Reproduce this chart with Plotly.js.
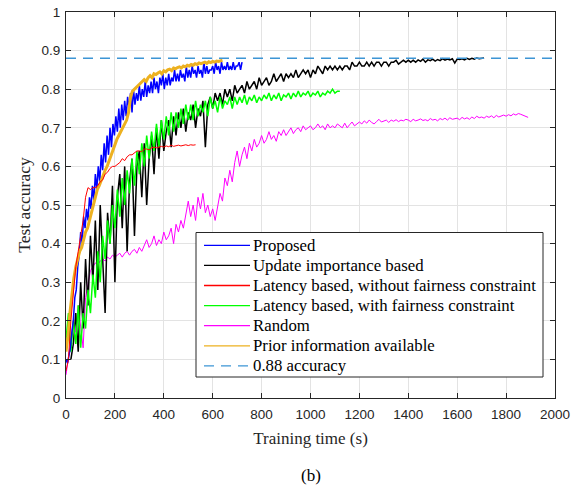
<!DOCTYPE html>
<html>
<head>
<meta charset="utf-8">
<script src="https://cdn.plot.ly/plotly-3.0.1.min.js"></script>
<style>
html,body{margin:0;padding:0;background:#fff;}
#chart{width:584px;height:487px;}
</style>
</head>
<body>
<div id="chart"></div>
<script>
// Series names (legend labels)
const seriesNames = [
  "Proposed",
  "Update importance based",
  "Latency based, without fairness constraint",
  "Latency based, with fairness constraint",
  "Random",
  "Prior information available",
  "0.88 accuracy"
];
const seriesColors = ['#0000ff','#000000','#ff0000','#00ff00','#ff00ff','#edb120','#3d95d5'];

// Proposed: start 0 s, every 6 s
const proposedStart = 0, proposedStep = 6;
const proposedAcc = [
  0.10,0.09,0.11,0.13,0.17,0.20,0.26,0.28,0.34,0.37,
  0.43,0.40,0.47,0.44,0.49,0.46,0.52,0.49,0.55,0.51,
  0.58,0.54,0.60,0.56,0.63,0.59,0.66,0.61,0.68,0.63,
  0.70,0.65,0.71,0.68,0.73,0.69,0.75,0.70,0.76,0.72,
  0.77,0.73,0.78,0.75,0.79,0.74,0.80,0.76,0.79,0.77,
  0.81,0.77,0.80,0.78,0.82,0.78,0.81,0.79,0.82,0.79,
  0.83,0.80,0.82,0.79,0.83,0.81,0.84,0.80,0.83,0.81,
  0.84,0.81,0.83,0.82,0.85,0.82,0.84,0.82,0.85,0.83,
  0.84,0.82,0.86,0.83,0.85,0.83,0.86,0.84,0.85,0.83,
  0.86,0.84,0.85,0.83,0.87,0.84,0.86,0.84,0.85,0.85,
  0.86,0.84,0.87,0.85,0.86,0.84,0.87,0.85,0.86,0.85,
  0.87,0.85,0.86,0.85,0.87,0.85,0.86,0.86,0.87,0.85,0.87
];

// Update importance based: start 20 s, every 10 s
const importanceStart = 20, importanceStep = 10;
const importanceAcc = [
  0.10,0.14,0.22,0.12,0.30,0.18,0.36,0.24,0.42,0.30,
  0.46,0.28,0.50,0.36,0.22,0.48,0.40,0.55,0.30,0.52,
  0.58,0.44,0.60,0.38,0.56,0.62,0.42,0.60,0.64,0.52,
  0.66,0.50,0.62,0.68,0.58,0.70,0.62,0.72,0.64,0.69,
  0.72,0.65,0.73,0.68,0.74,0.70,0.75,0.69,0.74,0.72,
  0.76,0.70,0.75,0.73,0.77,0.65,0.76,0.78,0.75,0.79,
  0.77,0.79,0.76,0.80,0.78,0.80,0.77,0.81,0.79,0.80,
  0.81,0.79,0.82,0.80,0.81,0.82,0.80,0.83,0.81,0.82,
  0.83,0.81,0.82,0.84,0.82,0.83,0.84,0.82,0.84,0.83,
  0.84,0.83,0.85,0.83,0.84,0.85,0.84,0.85,0.83,0.85,
  0.84,0.86,0.85,0.84,0.86,0.85,0.86,0.85,0.86,0.85,
  0.86,0.85,0.86,0.86,0.85,0.87,0.86,0.86,0.87,0.86,
  0.86,0.87,0.86,0.87,0.86,0.87,0.87,0.86,0.87,0.87,
  0.86,0.87,0.87,0.875,0.865,0.87,0.875,0.87,0.875,0.87,
  0.875,0.87,0.876,0.872,0.878,0.87,0.876,0.874,0.878,0.873,
  0.877,0.874,0.879,0.875,0.878,0.876,0.879,0.868,0.878,0.877,
  0.879,0.876,0.88,0.877,0.88,0.878,0.881,0.879,0.88,0.881
];

// Latency based, without fairness: start 0 s, every 10 s
const latNoFairStart = 0, latNoFairStep = 10;
const latNoFairAcc = [
  0.07,0.10,0.20,0.28,0.34,0.38,0.42,0.46,0.52,0.545,
  0.54,0.545,0.545,0.55,0.56,0.565,0.58,0.585,0.595,0.60,
  0.60,0.605,0.61,0.62,0.615,0.625,0.63,0.63,0.635,0.64,
  0.64,0.638,0.645,0.645,0.643,0.648,0.65,0.648,0.65,0.652,
  0.65,0.653,0.651,0.655,0.652,0.654,0.655,0.653,0.655,0.656,
  0.654,0.656,0.655,0.656
];

// Latency based, with fairness: start 0 s, every 10 s
const latFairStart = 0, latFairStep = 10;
const latFairAcc = [
  0.15,0.22,0.12,0.20,0.14,0.24,0.13,0.22,0.18,0.28,
  0.22,0.32,0.26,0.38,0.30,0.42,0.36,0.46,0.40,0.50,
  0.44,0.54,0.47,0.57,0.50,0.59,0.53,0.62,0.55,0.64,
  0.58,0.66,0.60,0.68,0.62,0.69,0.64,0.71,0.65,0.72,
  0.67,0.73,0.68,0.74,0.69,0.74,0.70,0.75,0.71,0.76,
  0.72,0.76,0.72,0.77,0.73,0.76,0.74,0.77,0.73,0.78,
  0.75,0.77,0.74,0.78,0.75,0.77,0.76,0.78,0.75,0.78,
  0.76,0.78,0.765,0.785,0.76,0.78,0.77,0.785,0.765,0.78,
  0.77,0.785,0.775,0.79,0.77,0.785,0.775,0.79,0.77,0.785,
  0.78,0.79,0.775,0.79,0.78,0.795,0.78,0.79,0.785,0.795,
  0.78,0.79,0.785,0.795,0.78,0.79,0.785,0.795,0.79,0.80,
  0.79,0.795,0.795
];

// Random: start 0 s, every 10 s
const randomStart = 0, randomStep = 10;
const randomAcc = [
  0.06,0.10,0.15,0.20,0.17,0.24,0.19,0.13,0.26,0.30,
  0.33,0.34,0.35,0.345,0.355,0.36,0.355,0.365,0.36,0.37,
  0.365,0.37,0.375,0.365,0.375,0.38,0.37,0.38,0.385,0.375,
  0.39,0.38,0.395,0.41,0.39,0.40,0.42,0.395,0.41,0.40,
  0.43,0.41,0.42,0.44,0.40,0.45,0.43,0.46,0.44,0.48,
  0.51,0.47,0.50,0.46,0.52,0.49,0.53,0.48,0.50,0.47,
  0.49,0.46,0.50,0.53,0.51,0.57,0.55,0.59,0.56,0.61,
  0.64,0.60,0.63,0.65,0.62,0.66,0.64,0.67,0.65,0.66,
  0.68,0.66,0.67,0.69,0.67,0.68,0.665,0.69,0.68,0.695,
  0.68,0.69,0.70,0.685,0.695,0.70,0.69,0.705,0.695,0.70,
  0.705,0.695,0.70,0.71,0.70,0.705,0.695,0.71,0.70,0.705,
  0.70,0.71,0.705,0.70,0.712,0.70,0.708,0.715,0.705,0.71,
  0.715,0.71,0.718,0.712,0.72,0.714,0.71,0.716,0.722,0.715,
  0.718,0.72,0.714,0.72,0.717,0.721,0.716,0.72,0.718,0.722,
  0.72,0.716,0.722,0.718,0.72,0.723,0.719,0.721,0.718,0.724,
  0.72,0.722,0.718,0.724,0.721,0.725,0.72,0.726,0.722,0.724,
  0.725,0.721,0.727,0.723,0.726,0.722,0.728,0.724,0.73,0.726,
  0.728,0.725,0.73,0.727,0.731,0.726,0.732,0.728,0.73,0.733,
  0.73,0.734,0.731,0.736,0.733,0.737,0.735,0.733,0.729,0.727
];

// Prior information available: start 0 s, every 8 s
const priorStart = 0, priorStep = 8;
const priorAcc = [
  0.12,0.16,0.22,0.27,0.31,0.34,0.36,0.38,0.39,0.41,
  0.43,0.44,0.46,0.48,0.50,0.52,0.54,0.55,0.565,0.575,
  0.59,0.60,0.615,0.63,0.645,0.66,0.67,0.68,0.69,0.70,
  0.71,0.72,0.74,0.78,0.795,0.80,0.805,0.81,0.815,0.82,
  0.825,0.82,0.83,0.835,0.83,0.84,0.838,0.842,0.845,0.84,
  0.848,0.845,0.85,0.852,0.848,0.855,0.853,0.856,0.858,0.855,
  0.86,0.858,0.862,0.86,0.864,0.862,0.866,0.864,0.868,0.866,
  0.868,0.87,0.867,0.871,0.869,0.872,0.87,0.873,0.872,0.874,
  0.875
];

// Reference accuracy line
const refTime = [0, 2000];
const refAcc = [0.88, 0.88];

// Axis ticks
const xTicks = [0,200,400,600,800,1000,1200,1400,1600,1800,2000];
const yTicks = [0,0.1,0.2,0.3,0.4,0.5,0.6,0.7,0.8,0.9,1];

const serif = "Liberation Serif, Times New Roman, serif";
const sans = "Liberation Sans, Arial, sans-serif";

// Plot-area geometry in pixels (used to place the hand-built legend box)
const PL = 66, PR = 555, PT = 12, PB = 398;
const px = v => (v - PL) / (PR - PL);
const py = v => (PB - v) / (PB - PT);

function series(idx, x0, dx, y, width, dash) {
  const t = {type:'scatter', mode:'lines', name:seriesNames[idx], y:y,
          line:{color:seriesColors[idx], width:width}, showlegend:false};
  if (x0 !== null) { t.x0 = x0; t.dx = dx; }
  if (dash) t.line.dash = dash;
  return t;
}

const refTrace = series(6, null, null, refAcc, 1.5, '10px,7px');
refTrace.x = refTime;

const traces = [
  series(4, randomStart, randomStep, randomAcc, 1),
  series(1, importanceStart, importanceStep, importanceAcc, 1.5),
  series(3, latFairStart, latFairStep, latFairAcc, 1.5),
  series(0, proposedStart, proposedStep, proposedAcc, 1.5),
  series(5, priorStart, priorStep, priorAcc, 3),
  series(2, latNoFairStart, latNoFairStep, latNoFairAcc, 1),
  refTrace
];

// Legend (box, sample lines, labels)
const legBox = {l:196, r:543, t:232.5, b:377};
const rowTop = 245.3, rowGap = 20.1, sampleL = 204, sampleR = 250, textL = 252;
const shapes = [{type:'rect', xref:'paper', yref:'paper', layer:'above',
  x0:px(legBox.l), x1:px(legBox.r), y0:py(legBox.b), y1:py(legBox.t),
  line:{color:'#262626', width:1}, fillcolor:'#ffffff'}];
const annotations = [];
seriesNames.forEach((name, i) => {
  const yy = py(rowTop + i * rowGap);
  shapes.push({type:'line', xref:'paper', yref:'paper', layer:'above',
    x0:px(sampleL), x1:px(sampleR), y0:yy, y1:yy,
    line:{color:seriesColors[i], width:1.3, dash: i === 6 ? '10px,7px' : 'solid'}});
  annotations.push({text:name, xref:'paper', yref:'paper', x:px(textL), y:yy,
    xanchor:'left', yanchor:'middle', showarrow:false, borderpad:0,
    font:{family:serif, size:16.8, color:'#000000'}});
});
annotations.push({text:'(b)', xref:'paper', yref:'paper', x:0.5, y:-0.202,
  yanchor:'middle', showarrow:false, font:{family:serif, size:17, color:'#000000'}});

const axisCommon = {
  showline:true, linecolor:'#262626', linewidth:1, mirror:'ticks',
  ticks:'inside', ticklen:5, tickcolor:'#262626', tickwidth:1,
  showgrid:true, gridcolor:'#e3e3e3', gridwidth:1, zeroline:false,
  tickfont:{family:sans, size:13.5, color:'#262626'}
};

const layout = {
  width:584, height:487,
  margin:{l:66, r:29, t:12, b:89},
  paper_bgcolor:'#ffffff', plot_bgcolor:'#ffffff',
  showlegend:false,
  xaxis:Object.assign({}, axisCommon, {
    range:[0,2000], tickvals:xTicks, ticktext:xTicks.map(String),
    ticklabelstandoff:4,
    title:{text:'Training time (s)', font:{family:serif, size:17, color:'#262626'}, standoff:10}
  }),
  yaxis:Object.assign({}, axisCommon, {
    range:[0,1], tickvals:yTicks, ticktext:yTicks.map(String),
    ticklabelstandoff:2,
    title:{text:'Test accuracy', font:{family:serif, size:17.5, color:'#262626'}, standoff:6}
  }),
  shapes:shapes,
  annotations:annotations
};

Plotly.newPlot('chart', traces, layout, {displayModeBar:false, staticPlot:true});
</script>
</body>
</html>
